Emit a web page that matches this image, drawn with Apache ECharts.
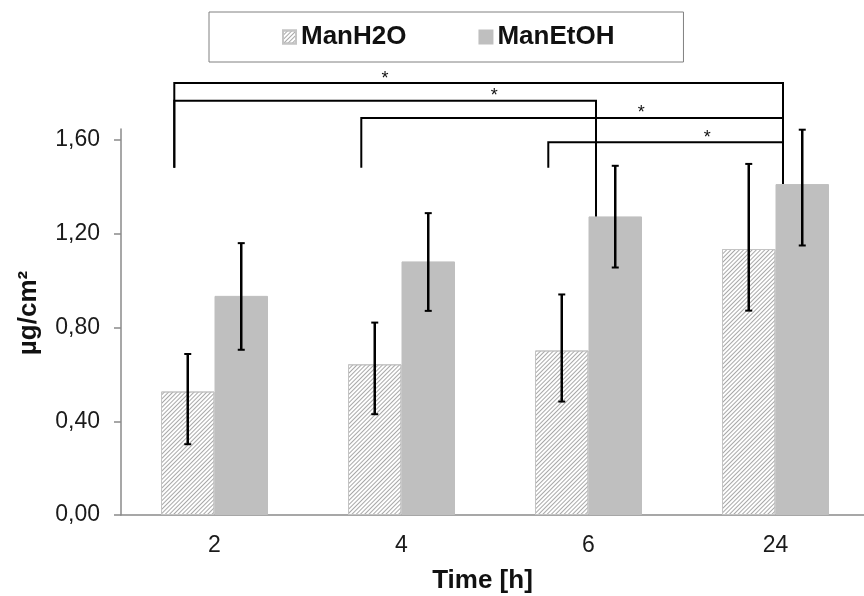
<!DOCTYPE html>
<html>
<head>
<meta charset="utf-8">
<script src="https://cdn.jsdelivr.net/npm/echarts@6/dist/echarts.min.js"></script>
<style>
  html, body { margin: 0; padding: 0; background: #fff; }
  #main { width: 864px; height: 596px; }
</style>
</head>
<body>
<div id="main"></div>
<script>
var categories = ['2', '4', '6', '24'];
var yTicks = [0, 0.4, 0.8, 1.2, 1.6];

var manH2O = [0.527, 0.643, 0.702, 1.135];
var manH2OLow = [0.302, 0.430, 0.484, 0.872];
var manH2OHigh = [0.687, 0.821, 0.941, 1.498];

var manEtOH = [0.935, 1.082, 1.274, 1.412];
var manEtOHLow = [0.705, 0.871, 1.056, 1.150];
var manEtOHHigh = [1.160, 1.288, 1.490, 1.644];

// significance brackets: from, to, height (µg/cm²), star position along the bracket
var brackets = [
  ['2', '24', 1.843, 0.346],
  ['2', '6', 1.768, 0.759],
  ['4', '24', 1.694, 0.664],
  ['6', '24', 1.590, 0.677]
];
var legBase = 1.482;

var FONT = 'Liberation Sans, Arial, sans-serif';
var barW = 53.5;

var myChart = echarts.init(document.getElementById('main'), null, { renderer: 'canvas' });

function errSeries(name, lows, highs, side) {
  return {
    name: name + ' err',
    type: 'custom',
    z: 5,
    silent: true,
    data: lows.map(function (v, i) { return [i, v, highs[i]]; }),
    encode: { x: 0, y: [1, 2] },
    renderItem: function (params, api) {
      var top = api.coord([api.value(0), api.value(2)]);
      var bot = api.coord([api.value(0), api.value(1)]);
      var x = top[0] + side * barW / 2;
      var cap = 3.5;
      var st = { stroke: '#000', lineWidth: 2.5 };
      return {
        type: 'group',
        children: [
          { type: 'line', shape: { x1: x, y1: top[1], x2: x, y2: bot[1] }, style: st },
          { type: 'line', shape: { x1: x - cap, y1: top[1], x2: x + cap, y2: top[1] }, style: { stroke: '#000', lineWidth: 2 } },
          { type: 'line', shape: { x1: x - cap, y1: bot[1], x2: x + cap, y2: bot[1] }, style: { stroke: '#000', lineWidth: 2 } }
        ]
      };
    }
  };
}

var bracketData = brackets.map(function (b) {
  return [categories.indexOf(b[0]), categories.indexOf(b[1]), b[2], b[3]];
});

var option = {
  backgroundColor: '#fff',
  animation: false,
  textStyle: { fontFamily: FONT },
  legend: {
    left: 209,
    top: 12,
    data: [{ name: 'ManH2O', icon: 'rect' }, { name: 'ManEtOH', icon: 'rect' }],
    borderColor: '#808080',
    borderWidth: 1,
    padding: [12, 69, 12, 73],
    itemWidth: 13,
    itemHeight: 13,
    itemGap: 72,
    textStyle: { fontSize: 26, fontWeight: 'bold', color: '#111', fontFamily: FONT, lineHeight: 26 }
  },
  grid: { left: 121, top: 129, width: 748, height: 386, outerBoundsMode: 'none', containLabel: false },
  xAxis: {
    type: 'category',
    data: categories,
    name: 'Time [h]',
    nameLocation: 'middle',
    nameGap: 53,
    nameTextStyle: { fontSize: 26, fontWeight: 'bold', color: '#111', fontFamily: FONT, padding: [0, 25, 0, 0] },
    axisLine: { lineStyle: { color: '#8a8a8a', width: 1.5 } },
    axisTick: { length: 7, lineStyle: { color: '#8a8a8a', width: 1.5 } },
    axisLabel: { fontSize: 23, color: '#1a1a1a', margin: 19, fontFamily: FONT }
  },
  yAxis: {
    type: 'value',
    min: 0,
    max: 1.647,
    name: 'µg/cm²',
    nameLocation: 'middle',
    nameGap: 79,
    nameRotate: 90,
    nameTextStyle: { fontSize: 26, fontWeight: 'bold', color: '#111', fontFamily: FONT, padding: [0, 0, 0, 18] },
    splitLine: { show: false },
    axisLine: { show: true, lineStyle: { color: '#8a8a8a', width: 1.5 } },
    axisTick: { show: true, length: 7, customValues: yTicks, lineStyle: { color: '#8a8a8a', width: 1.5 } },
    axisLabel: {
      customValues: yTicks,
      fontSize: 23,
      color: '#1a1a1a',
      margin: 21,
      fontFamily: FONT,
      formatter: function (v) { return v.toFixed(2).replace('.', ','); }
    }
  },
  series: [
    {
      name: 'ManH2O',
      type: 'bar',
      data: manH2O,
      barWidth: barW,
      barGap: '0%',
      itemStyle: {
        color: '#fff',
        borderColor: '#c4c4c4',
        borderWidth: 1,
        decal: {
          symbol: 'rect',
          symbolSize: 1,
          dashArrayX: [1, 0],
          dashArrayY: [1, 2],
          rotation: -Math.PI / 4,
          color: '#a8a8a8'
        }
      }
    },
    {
      name: 'ManEtOH',
      type: 'bar',
      data: manEtOH,
      barWidth: barW,
      barGap: '0%',
      itemStyle: { color: '#bfbfbf', borderColor: '#bfbfbf', borderWidth: 1 }
    },
    errSeries('ManH2O', manH2OLow, manH2OHigh, -1),
    errSeries('ManEtOH', manEtOHLow, manEtOHHigh, 1),
    {
      name: 'brackets',
      type: 'custom',
      z: 6,
      silent: true,
      clip: false,
      data: bracketData,
      encode: { x: [0, 1], y: 2 },
      renderItem: function (params, api) {
        var fromI = api.value(0), toI = api.value(1), lvl = api.value(2), frac = api.value(3);
        var cw = api.size([1, 0])[0];
        var a = api.coord([fromI, lvl]);
        var b = api.coord([toI, lvl]);
        var x1 = a[0] - 0.215 * cw;
        var x2 = b[0] + 7.5;
        var y = a[1];
        var yl = api.coord([fromI, legBase])[1];
        var yr = api.coord([toI, manEtOH[toI]])[1];
        var st = { stroke: '#000', lineWidth: 2, fill: null };
        return {
          type: 'group',
          children: [
            { type: 'polyline', shape: { points: [[x1, yl], [x1, y], [x2, y], [x2, yr]] }, style: st },
            {
              type: 'text',
              style: {
                text: '*',
                x: x1 + (x2 - x1) * frac,
                y: y - 4.5,
                align: 'center',
                verticalAlign: 'middle',
                fontSize: 18,
                fontFamily: FONT,
                fill: '#111'
              }
            }
          ]
        };
      }
    }
  ]
};

myChart.setOption(option);
</script>
</body>
</html>
